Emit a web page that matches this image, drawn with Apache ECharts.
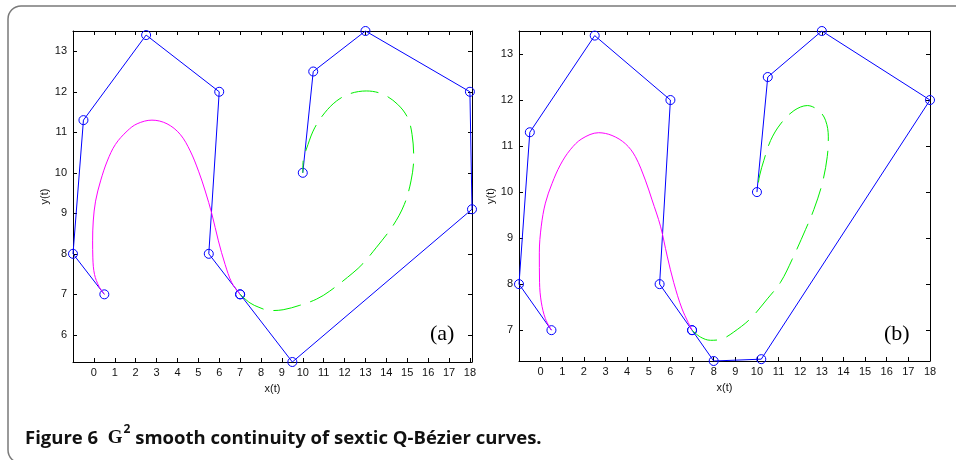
<!DOCTYPE html>
<html><head><meta charset="utf-8">
<script src="https://cdn.jsdelivr.net/npm/echarts@6/dist/echarts.min.js"></script>
<style>html,body{margin:0;padding:0;background:#fff}#c{width:956px;height:460px}</style>
</head><body><div id="c"></div>
<script>
// ---- data ----
const xTicksA = [0,1,2,3,4,5,6,7,8,9,10,11,12,13,14,15,16,17,18];
const yTicksA = [6,7,8,9,10,11,12,13];
const xTicksB = [0,1,2,3,4,5,6,7,8,9,10,11,12,13,14,15,16,17,18];
const yTicksB = [7,8,9,10,11,12,13];

// panel (a) control polygons
const ctrlA1 = [[0.5,7],[-1,8],[-0.5,11.3],[2.5,13.4],[6,12],[5.5,8],[7,7]];
const ctrlA2 = [[7,7],[9.5,5.33],[18.1,9.1],[18,12],[13,13.5],[10.5,12.5],[10,10]];
// panel (a) curves
const curveA1 = [[0.5,7],[0.24,7.2],[0.03,7.49],[-0.05,7.9],[-0.06,8.32],[-0.03,8.81],[0.08,9.3],[0.32,9.8],[0.64,10.29],[1.03,10.7],[1.59,11.03],[2.07,11.21],[2.78,11.3],[3.5,11.21],[4.13,10.95],[4.61,10.54],[5.01,10.04],[5.33,9.55],[5.65,8.98],[5.96,8.32],[6.28,7.74],[6.6,7.29],[7,7]];
const curveA2 = [[7,7],[7.47,6.79],[7.9,6.68],[8.43,6.6],[9.06,6.62],[9.86,6.73],[10.65,6.88],[11.29,7.08],[12.4,7.53],[12.88,7.76],[13.51,8.15],[14.31,8.69],[14.86,9.22],[15.18,9.8],[15.31,10.37],[15.23,10.95],[15.02,11.36],[14.54,11.69],[13.83,11.94],[13.04,12.02],[12.24,11.95],[11.61,11.77],[11.05,11.48],[10.57,11.11],[10.25,10.7],[10.01,10.25],[10,10]];

// panel (b) control polygons
const ctrlB1 = [[0.5,7],[-1,8],[-0.5,11.3],[2.5,13.4],[6,12],[5.5,8],[7,7]];
const ctrlB2 = [[7,7],[8,6.33],[10.2,6.37],[18,12],[13,13.5],[10.5,12.5],[10,10]];
// panel (b) curves
const curveB1 = [[0.5,7],[0.22,7.25],[0.03,7.61],[-0.05,8.04],[-0.06,8.68],[0.03,9.26],[0.22,9.76],[0.53,10.19],[0.91,10.59],[1.37,10.92],[1.91,11.16],[2.68,11.29],[3.3,11.23],[3.92,11.05],[4.38,10.77],[4.84,10.26],[5.15,9.83],[5.54,9.26],[5.85,8.61],[6.15,8.04],[6.54,7.46],[7,7]];
const curveB2 = [[7,7],[7.39,6.85],[7.85,6.78],[8.39,6.81],[8.93,6.96],[9.7,7.25],[10.48,7.68],[11.09,8.04],[11.63,8.54],[12.25,9.19],[12.63,9.62],[13.02,10.19],[13.25,10.77],[13.3,11.2],[13.17,11.56],[12.86,11.77],[12.33,11.88],[11.71,11.77],[11.09,11.48],[10.63,11.12],[10.32,10.69],[10.13,10.37],[10,10]];

const rangesA = {xmin:-1, xmax:18.1, ymin:5.33, ymax:13.5};
const rangesB = {xmin:-1, xmax:18, ymin:6.33, ymax:13.5};

// ---- chart ----
const BLUE = '#0000ff', MAG = '#ff00ff', GRN = '#00f000';
const FONT = 'Liberation Sans';
const grids = [
  {left:73, top:31, width:399, height:331},
  {left:519, top:31, width:411, height:330}
];
function axesFor(g, r, xt, yt) {
  const tick = (vals) => ({show:true, inside:true, length:4, customValues:vals, lineStyle:{color:'#000', width:1}});
  const line = {show:true, onZero:false, lineStyle:{color:'#000', width:1}};
  const lab = (vals, m) => ({show:true, customValues:vals, color:'#111', fontFamily:FONT, fontSize:11, margin:m});
  return {
    x: [
      {type:'value', gridIndex:g, position:'bottom', min:r.xmin, max:r.xmax, axisLine:line, axisTick:tick(xt), axisLabel:lab(xt,5), splitLine:{show:false},
       name:'x(t)', nameLocation:'middle', nameGap:21, nameTextStyle:{fontFamily:FONT, fontSize:11, color:'#111'}},
      {type:'value', gridIndex:g, position:'top', min:r.xmin, max:r.xmax, axisLine:line, axisTick:tick(xt), axisLabel:{show:false}, splitLine:{show:false}}
    ],
    y: [
      {type:'value', gridIndex:g, position:'left', min:r.ymin, max:r.ymax, axisLine:line, axisTick:tick(yt), axisLabel:lab(yt,6), splitLine:{show:false},
       name:'y(t)', nameLocation:'middle', nameGap:23, nameTextStyle:{fontFamily:FONT, fontSize:11, color:'#111'}},
      {type:'value', gridIndex:g, position:'right', min:r.ymin, max:r.ymax, axisLine:line, axisTick:tick(yt), axisLabel:{show:false}, splitLine:{show:false}}
    ]
  };
}
const aA = axesFor(0, rangesA, xTicksA, yTicksA);
const aB = axesFor(1, rangesB, xTicksB, yTicksB);

function poly(data, xi, yi) {
  return {type:'line', xAxisIndex:xi, yAxisIndex:yi, data:data, symbol:'circle', symbolSize:9,
    itemStyle:{color:'rgba(0,0,0,0)', borderColor:BLUE, borderWidth:1},
    lineStyle:{color:BLUE, width:1}, animation:false, silent:true, z:2};
}
function curve(data, xi, yi, color, dashed) {
  return {type:'line', xAxisIndex:xi, yAxisIndex:yi, data:data, symbol:'none', smooth:0.35,
    lineStyle:{color:color, width:1, type: dashed ? [28,10] : 'solid'}, animation:false, silent:true, z:3};
}

const chart = echarts.init(document.getElementById('c'), null, {renderer:'canvas'});
chart.setOption({
  animation:false,
  backgroundColor:'#fff',
  grid: grids,
  xAxis: [...aA.x, ...aB.x],
  yAxis: [...aA.y, ...aB.y],
  series: [
    poly(ctrlA1,0,0), poly(ctrlA2,0,0),
    curve(curveA1,0,0,MAG,false), curve(curveA2,0,0,GRN,true),
    poly(ctrlB1,2,2), poly(ctrlB2,2,2),
    curve(curveB1,2,2,MAG,false), curve(curveB2,2,2,GRN,true)
  ],
  graphic: [
    {type:'rect', shape:{x:8, y:6, width:990, height:457, r:13}, style:{fill:'none', stroke:'#7a7a7a', lineWidth:1.5}, silent:true},
    {type:'text', left:430, top:323, style:{text:'(a)', font:'22px "Liberation Serif"', fill:'#000'}},
    {type:'text', left:884, top:323, style:{text:'(b)', font:'22px "Liberation Serif"', fill:'#000'}},
    {type:'text', left:25, top:424, style:{
      text:'{b|Figure 6  }{g|G}{s|2}{b| smooth continuity of sextic Q-Bézier curves.}',
      rich:{
        b:{fontFamily:'Open Sans', fontWeight:'bold', fontSize:18.5, fill:'#111', lineHeight:24, verticalAlign:'bottom'},
        g:{fontFamily:'Liberation Serif', fontWeight:'bold', fontSize:19, fill:'#111', lineHeight:24, verticalAlign:'bottom'},
        s:{fontFamily:'Open Sans', fontWeight:'bold', fontSize:12, fill:'#111', lineHeight:24, verticalAlign:'top', padding:[0,0,8,1]}
      }
    }}
  ]
});
</script></body></html>
